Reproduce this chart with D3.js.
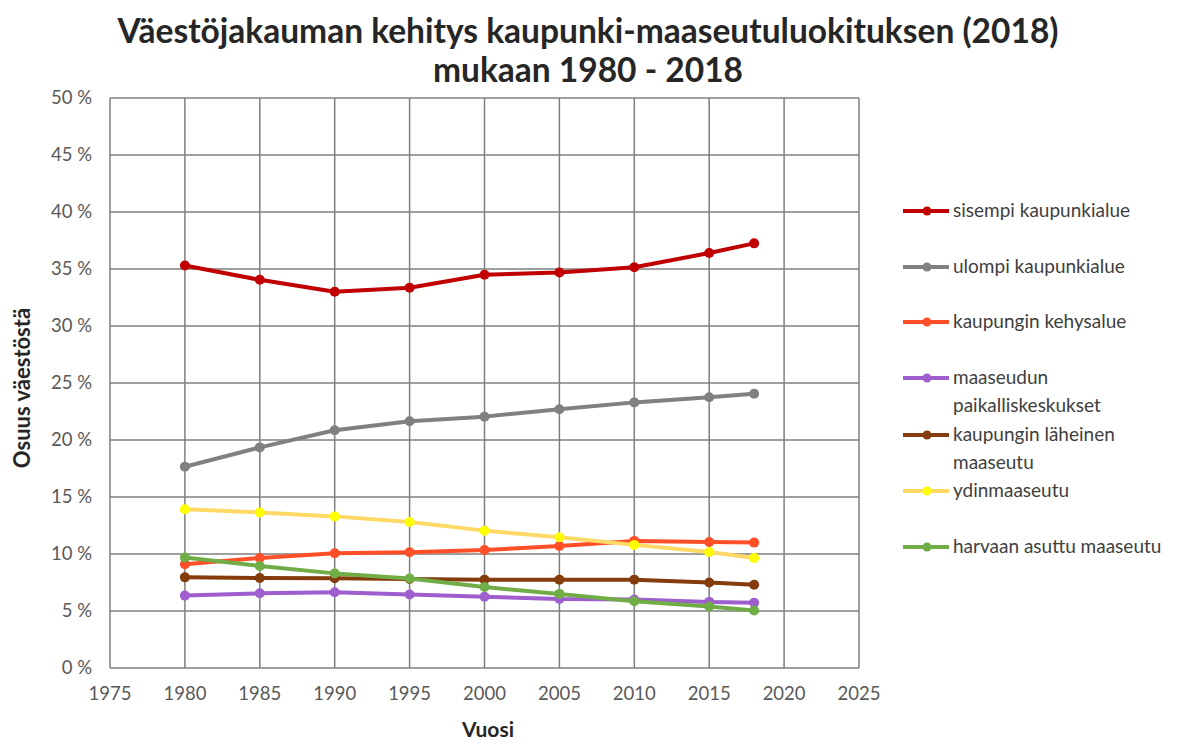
<!DOCTYPE html>
<html>
<head>
<meta charset="utf-8">
<script src="https://cdn.jsdelivr.net/npm/d3@7"></script>
<style>
  body { margin: 0; background: #fff; }
  text { font-family: Lato, "Open Sans", sans-serif; }
</style>
</head>
<body>
<svg id="chart" width="1194" height="740"></svg>
<script>
// data
const years = [1980, 1985, 1990, 1995, 2000, 2005, 2010, 2015, 2018];
const xTicks = [1975, 1980, 1985, 1990, 1995, 2000, 2005, 2010, 2015, 2020, 2025];
const yTicks = [0, 5, 10, 15, 20, 25, 30, 35, 40, 45, 50];

const sisempi  = [35.3, 34.05, 33.0, 33.35, 34.5, 34.7, 35.15, 36.4, 37.25];
const ulompi   = [17.65, 19.35, 20.85, 21.65, 22.05, 22.7, 23.3, 23.75, 24.05];
const kehys    = [9.1, 9.65, 10.07, 10.15, 10.35, 10.7, 11.15, 11.05, 11.0];
const paikalli = [6.35, 6.55, 6.65, 6.45, 6.25, 6.05, 6.0, 5.8, 5.72];
const laheinen = [7.95, 7.9, 7.88, 7.8, 7.75, 7.75, 7.75, 7.5, 7.3];
const ydin     = [13.92, 13.65, 13.3, 12.8, 12.05, 11.47, 10.8, 10.17, 9.65];
const harvaan  = [9.7, 8.95, 8.3, 7.85, 7.1, 6.5, 5.85, 5.4, 5.05];

const series = [
  { name: ['sisempi kaupunkialue'], values: sisempi, line: '#C00000', dot: '#C00000', ly: 211 },
  { name: ['ulompi kaupunkialue'], values: ulompi, line: '#808080', dot: '#808080', ly: 267 },
  { name: ['kaupungin kehysalue'], values: kehys, line: '#FF4F28', dot: '#FF4F28', ly: 322 },
  { name: ['maaseudun', 'paikalliskeskukset'], values: paikalli, line: '#9E5ECE', dot: '#9E5ECE', ly: 378 },
  { name: ['kaupungin läheinen', 'maaseutu'], values: laheinen, line: '#843C0C', dot: '#843C0C', ly: 435 },
  { name: ['ydinmaaseutu'], values: ydin, line: '#FFD966', dot: '#FFFF00', ly: 491 },
  { name: ['harvaan asuttu maaseutu'], values: harvaan, line: '#70AD47', dot: '#70AD47', ly: 547 }
];

const svg = d3.select('#chart');
const plot = { left: 110, right: 859, top: 98, bottom: 668 };

const x = d3.scaleLinear().domain([1975, 2025]).range([plot.left, plot.right]);
const y = d3.scaleLinear().domain([0, 50]).range([plot.bottom, plot.top]);

// gridlines
const grid = svg.append('g');
grid.selectAll('line.h').data(yTicks).enter().append('line')
  .attr('x1', plot.left).attr('x2', plot.right)
  .attr('y1', d => y(d)).attr('y2', d => y(d))
  .attr('stroke', '#7f7f7f').attr('stroke-width', 1.5);
grid.selectAll('line.v').data(xTicks).enter().append('line')
  .attr('x1', d => x(d)).attr('x2', d => x(d))
  .attr('y1', plot.top).attr('y2', plot.bottom)
  .attr('stroke', '#7f7f7f').attr('stroke-width', 1.5);

// tick labels
svg.append('g').selectAll('text').data(yTicks).enter().append('text')
  .attr('x', 92).attr('y', d => y(d) + 6)
  .attr('text-anchor', 'end')
  .attr('font-size', 18.5).attr('fill', '#595959')
  .text(d => d + ' %');
svg.append('g').selectAll('text').data(xTicks).enter().append('text')
  .attr('x', d => x(d)).attr('y', 700)
  .attr('text-anchor', 'middle')
  .attr('font-size', 18.5).attr('fill', '#595959')
  .text(d => d);

// axis titles
svg.append('text')
  .attr('transform', 'translate(30,388) rotate(-90)')
  .attr('text-anchor', 'middle')
  .attr('font-size', 22).attr('font-weight', 'bold').attr('fill', '#262626')
  .text('Osuus väestöstä');
svg.append('text')
  .attr('x', 488).attr('y', 737)
  .attr('text-anchor', 'middle')
  .attr('font-size', 21).attr('font-weight', 'bold').attr('fill', '#262626')
  .text('Vuosi');

// title
const title = svg.append('text')
  .attr('text-anchor', 'middle')
  .attr('font-size', 33.5).attr('font-weight', 'bold').attr('fill', '#262626');
title.append('tspan').attr('x', 588).attr('y', 43)
  .text('Väestöjakauman kehitys kaupunki-maaseutuluokituksen (2018)');
title.append('tspan').attr('x', 588).attr('y', 82)
  .text('mukaan 1980 - 2018');

// lines
const line = d3.line().x((d, i) => x(years[i])).y(d => y(d));
const gLines = svg.append('g');
series.forEach(s => {
  gLines.append('path')
    .datum(s.values)
    .attr('d', line)
    .attr('fill', 'none')
    .attr('stroke', s.line)
    .attr('stroke-width', 4)
    .attr('stroke-linejoin', 'round');
  gLines.append('g').selectAll('circle').data(s.values).enter().append('circle')
    .attr('cx', (d, i) => x(years[i]))
    .attr('cy', d => y(d))
    .attr('r', 5)
    .attr('fill', s.dot);
});

// legend
const legend = svg.append('g');
series.forEach(s => {
  const g = legend.append('g').attr('transform', 'translate(0,' + s.ly + ')');
  g.append('line').attr('x1', 903).attr('x2', 949).attr('y1', 0).attr('y2', 0)
    .attr('stroke', s.line).attr('stroke-width', 4);
  g.append('circle').attr('cx', 927).attr('cy', 0).attr('r', 4.5).attr('fill', s.dot);
  s.name.forEach((t, k) => {
    g.append('text').attr('x', 953).attr('y', 6 + k * 28)
      .attr('font-size', 19).attr('fill', '#404040')
      .text(t);
  });
});
</script>
</body>
</html>
